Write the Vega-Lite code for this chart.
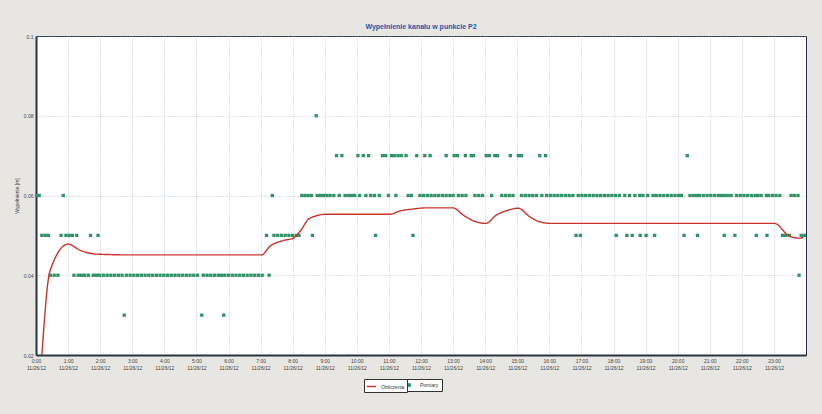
{
  "$schema": "https://vega.github.io/schema/vega-lite/v6.json",
  "width": 770,
  "height": 319,
  "autosize": "none",
  "padding": {"left": 36, "top": 36, "right": 16, "bottom": 59},
  "background": "#e8e6e2",
  "title": {"text": "Wypełnienie kanału w punkcie P2", "fontSize": 7, "fontWeight": "bold", "color": "#1f55a8", "anchor": "middle", "offset": 4},
  "config": {
    "view": {"stroke": "#2a3440", "strokeWidth": 1, "fill": "white"},
    "font": "Liberation Sans"
  },
  "datasets": {
    "lineData": [
      {"t": "2012-11-26T00:11", "v": 0.02},
      {"t": "2012-11-26T00:26", "v": 0.041},
      {"t": "2012-11-26T01:00", "v": 0.0478},
      {"t": "2012-11-26T01:22", "v": 0.0463},
      {"t": "2012-11-26T01:53", "v": 0.0453},
      {"t": "2012-11-26T03:00", "v": 0.0451},
      {"t": "2012-11-26T05:00", "v": 0.0451},
      {"t": "2012-11-26T07:02", "v": 0.0451},
      {"t": "2012-11-26T07:17", "v": 0.0472},
      {"t": "2012-11-26T07:42", "v": 0.0487},
      {"t": "2012-11-26T08:01", "v": 0.0493},
      {"t": "2012-11-26T08:13", "v": 0.0509},
      {"t": "2012-11-26T08:32", "v": 0.0543},
      {"t": "2012-11-26T09:04", "v": 0.0553},
      {"t": "2012-11-26T11:02", "v": 0.0553},
      {"t": "2012-11-26T11:20", "v": 0.0561},
      {"t": "2012-11-26T11:45", "v": 0.0566},
      {"t": "2012-11-26T12:10", "v": 0.0569},
      {"t": "2012-11-26T13:00", "v": 0.0569},
      {"t": "2012-11-26T13:19", "v": 0.0551},
      {"t": "2012-11-26T13:37", "v": 0.0537},
      {"t": "2012-11-26T14:01", "v": 0.053},
      {"t": "2012-11-26T14:21", "v": 0.0551},
      {"t": "2012-11-26T14:40", "v": 0.0562},
      {"t": "2012-11-26T15:02", "v": 0.0568},
      {"t": "2012-11-26T15:23", "v": 0.0547},
      {"t": "2012-11-26T15:42", "v": 0.0534},
      {"t": "2012-11-26T16:04", "v": 0.053},
      {"t": "2012-11-26T20:00", "v": 0.053},
      {"t": "2012-11-26T23:01", "v": 0.053},
      {"t": "2012-11-26T23:29", "v": 0.0498},
      {"t": "2012-11-26T23:48", "v": 0.0493},
      {"t": "2012-11-26T23:55", "v": 0.0495}
    ],
    "ptsData": [
      {"t": "2012-11-26T08:44", "v": 0.08},
      {"t": "2012-11-26T09:22", "v": 0.07}, {"t": "2012-11-26T09:32", "v": 0.07}, {"t": "2012-11-26T10:02", "v": 0.07}, {"t": "2012-11-26T10:12", "v": 0.07}, {"t": "2012-11-26T10:22", "v": 0.07}, {"t": "2012-11-26T10:48", "v": 0.07}, {"t": "2012-11-26T10:54", "v": 0.07}, {"t": "2012-11-26T11:05", "v": 0.07}, {"t": "2012-11-26T11:10", "v": 0.07}, {"t": "2012-11-26T11:17", "v": 0.07}, {"t": "2012-11-26T11:23", "v": 0.07}, {"t": "2012-11-26T11:32", "v": 0.07}, {"t": "2012-11-26T11:52", "v": 0.07}, {"t": "2012-11-26T12:07", "v": 0.07}, {"t": "2012-11-26T12:17", "v": 0.07}, {"t": "2012-11-26T12:47", "v": 0.07}, {"t": "2012-11-26T13:02", "v": 0.07}, {"t": "2012-11-26T13:08", "v": 0.07}, {"t": "2012-11-26T13:23", "v": 0.07}, {"t": "2012-11-26T13:34", "v": 0.07}, {"t": "2012-11-26T13:38", "v": 0.07}, {"t": "2012-11-26T14:02", "v": 0.07}, {"t": "2012-11-26T14:08", "v": 0.07}, {"t": "2012-11-26T14:18", "v": 0.07}, {"t": "2012-11-26T14:23", "v": 0.07}, {"t": "2012-11-26T14:47", "v": 0.07}, {"t": "2012-11-26T15:02", "v": 0.07}, {"t": "2012-11-26T15:08", "v": 0.07}, {"t": "2012-11-26T15:42", "v": 0.07}, {"t": "2012-11-26T15:53", "v": 0.07}, {"t": "2012-11-26T20:18", "v": 0.07},
      {"t": "2012-11-26T00:01", "v": 0.06}, {"t": "2012-11-26T00:06", "v": 0.06}, {"t": "2012-11-26T00:51", "v": 0.06}, {"t": "2012-11-26T07:22", "v": 0.06}, {"t": "2012-11-26T08:17", "v": 0.06}, {"t": "2012-11-26T08:23", "v": 0.06}, {"t": "2012-11-26T08:29", "v": 0.06}, {"t": "2012-11-26T08:35", "v": 0.06}, {"t": "2012-11-26T08:46", "v": 0.06}, {"t": "2012-11-26T08:52", "v": 0.06}, {"t": "2012-11-26T08:58", "v": 0.06}, {"t": "2012-11-26T09:04", "v": 0.06}, {"t": "2012-11-26T09:10", "v": 0.06}, {"t": "2012-11-26T09:17", "v": 0.06}, {"t": "2012-11-26T09:27", "v": 0.06}, {"t": "2012-11-26T09:38", "v": 0.06}, {"t": "2012-11-26T09:44", "v": 0.06}, {"t": "2012-11-26T09:50", "v": 0.06}, {"t": "2012-11-26T09:56", "v": 0.06}, {"t": "2012-11-26T10:05", "v": 0.06}, {"t": "2012-11-26T10:17", "v": 0.06}, {"t": "2012-11-26T10:26", "v": 0.06}, {"t": "2012-11-26T10:33", "v": 0.06}, {"t": "2012-11-26T10:42", "v": 0.06}, {"t": "2012-11-26T10:59", "v": 0.06}, {"t": "2012-11-26T11:13", "v": 0.06}, {"t": "2012-11-26T11:36", "v": 0.06}, {"t": "2012-11-26T11:42", "v": 0.06}, {"t": "2012-11-26T11:58", "v": 0.06}, {"t": "2012-11-26T12:05", "v": 0.06}, {"t": "2012-11-26T12:12", "v": 0.06}, {"t": "2012-11-26T12:19", "v": 0.06}, {"t": "2012-11-26T12:26", "v": 0.06}, {"t": "2012-11-26T12:33", "v": 0.06}, {"t": "2012-11-26T12:40", "v": 0.06}, {"t": "2012-11-26T12:47", "v": 0.06}, {"t": "2012-11-26T12:54", "v": 0.06}, {"t": "2012-11-26T13:00", "v": 0.06}, {"t": "2012-11-26T13:10", "v": 0.06}, {"t": "2012-11-26T13:17", "v": 0.06}, {"t": "2012-11-26T13:24", "v": 0.06}, {"t": "2012-11-26T13:41", "v": 0.06}, {"t": "2012-11-26T13:48", "v": 0.06}, {"t": "2012-11-26T13:55", "v": 0.06}, {"t": "2012-11-26T14:12", "v": 0.06}, {"t": "2012-11-26T14:31", "v": 0.06}, {"t": "2012-11-26T14:38", "v": 0.06}, {"t": "2012-11-26T14:45", "v": 0.06}, {"t": "2012-11-26T14:52", "v": 0.06}, {"t": "2012-11-26T15:08", "v": 0.06}, {"t": "2012-11-26T15:15", "v": 0.06}, {"t": "2012-11-26T15:22", "v": 0.06}, {"t": "2012-11-26T15:29", "v": 0.06}, {"t": "2012-11-26T15:36", "v": 0.06}, {"t": "2012-11-26T15:46", "v": 0.06}, {"t": "2012-11-26T15:55", "v": 0.06}, {"t": "2012-11-26T16:02", "v": 0.06}, {"t": "2012-11-26T16:09", "v": 0.06}, {"t": "2012-11-26T16:16", "v": 0.06}, {"t": "2012-11-26T16:23", "v": 0.06}, {"t": "2012-11-26T16:30", "v": 0.06}, {"t": "2012-11-26T16:37", "v": 0.06}, {"t": "2012-11-26T16:44", "v": 0.06}, {"t": "2012-11-26T16:54", "v": 0.06}, {"t": "2012-11-26T17:01", "v": 0.06}, {"t": "2012-11-26T17:08", "v": 0.06}, {"t": "2012-11-26T17:15", "v": 0.06}, {"t": "2012-11-26T17:22", "v": 0.06}, {"t": "2012-11-26T17:29", "v": 0.06}, {"t": "2012-11-26T17:36", "v": 0.06}, {"t": "2012-11-26T17:43", "v": 0.06}, {"t": "2012-11-26T17:50", "v": 0.06}, {"t": "2012-11-26T17:57", "v": 0.06}, {"t": "2012-11-26T18:04", "v": 0.06}, {"t": "2012-11-26T18:11", "v": 0.06}, {"t": "2012-11-26T18:21", "v": 0.06}, {"t": "2012-11-26T18:30", "v": 0.06}, {"t": "2012-11-26T18:40", "v": 0.06}, {"t": "2012-11-26T18:49", "v": 0.06}, {"t": "2012-11-26T18:55", "v": 0.06}, {"t": "2012-11-26T19:04", "v": 0.06}, {"t": "2012-11-26T19:14", "v": 0.06}, {"t": "2012-11-26T19:20", "v": 0.06}, {"t": "2012-11-26T19:27", "v": 0.06}, {"t": "2012-11-26T19:34", "v": 0.06}, {"t": "2012-11-26T19:41", "v": 0.06}, {"t": "2012-11-26T19:48", "v": 0.06}, {"t": "2012-11-26T19:55", "v": 0.06}, {"t": "2012-11-26T20:02", "v": 0.06}, {"t": "2012-11-26T20:07", "v": 0.06}, {"t": "2012-11-26T20:23", "v": 0.06}, {"t": "2012-11-26T20:29", "v": 0.06}, {"t": "2012-11-26T20:35", "v": 0.06}, {"t": "2012-11-26T20:41", "v": 0.06}, {"t": "2012-11-26T20:48", "v": 0.06}, {"t": "2012-11-26T20:55", "v": 0.06}, {"t": "2012-11-26T21:02", "v": 0.06}, {"t": "2012-11-26T21:09", "v": 0.06}, {"t": "2012-11-26T21:16", "v": 0.06}, {"t": "2012-11-26T21:22", "v": 0.06}, {"t": "2012-11-26T21:28", "v": 0.06}, {"t": "2012-11-26T21:34", "v": 0.06}, {"t": "2012-11-26T21:40", "v": 0.06}, {"t": "2012-11-26T21:50", "v": 0.06}, {"t": "2012-11-26T21:57", "v": 0.06}, {"t": "2012-11-26T22:04", "v": 0.06}, {"t": "2012-11-26T22:11", "v": 0.06}, {"t": "2012-11-26T22:18", "v": 0.06}, {"t": "2012-11-26T22:25", "v": 0.06}, {"t": "2012-11-26T22:30", "v": 0.06}, {"t": "2012-11-26T22:36", "v": 0.06}, {"t": "2012-11-26T22:46", "v": 0.06}, {"t": "2012-11-26T22:50", "v": 0.06}, {"t": "2012-11-26T22:57", "v": 0.06}, {"t": "2012-11-26T23:04", "v": 0.06}, {"t": "2012-11-26T23:11", "v": 0.06}, {"t": "2012-11-26T23:32", "v": 0.06}, {"t": "2012-11-26T23:38", "v": 0.06}, {"t": "2012-11-26T23:45", "v": 0.06},
      {"t": "2012-11-26T00:11", "v": 0.05}, {"t": "2012-11-26T00:17", "v": 0.05}, {"t": "2012-11-26T00:23", "v": 0.05}, {"t": "2012-11-26T00:47", "v": 0.05}, {"t": "2012-11-26T00:56", "v": 0.05}, {"t": "2012-11-26T01:02", "v": 0.05}, {"t": "2012-11-26T01:08", "v": 0.05}, {"t": "2012-11-26T01:16", "v": 0.05}, {"t": "2012-11-26T01:42", "v": 0.05}, {"t": "2012-11-26T01:56", "v": 0.05}, {"t": "2012-11-26T07:11", "v": 0.05}, {"t": "2012-11-26T07:25", "v": 0.05}, {"t": "2012-11-26T07:32", "v": 0.05}, {"t": "2012-11-26T07:39", "v": 0.05}, {"t": "2012-11-26T07:46", "v": 0.05}, {"t": "2012-11-26T07:53", "v": 0.05}, {"t": "2012-11-26T08:00", "v": 0.05}, {"t": "2012-11-26T08:07", "v": 0.05}, {"t": "2012-11-26T08:12", "v": 0.05}, {"t": "2012-11-26T08:37", "v": 0.05}, {"t": "2012-11-26T10:35", "v": 0.05}, {"t": "2012-11-26T11:45", "v": 0.05}, {"t": "2012-11-26T16:50", "v": 0.05}, {"t": "2012-11-26T16:58", "v": 0.05}, {"t": "2012-11-26T18:05", "v": 0.05}, {"t": "2012-11-26T18:25", "v": 0.05}, {"t": "2012-11-26T18:35", "v": 0.05}, {"t": "2012-11-26T18:50", "v": 0.05}, {"t": "2012-11-26T19:01", "v": 0.05}, {"t": "2012-11-26T19:17", "v": 0.05}, {"t": "2012-11-26T20:12", "v": 0.05}, {"t": "2012-11-26T20:37", "v": 0.05}, {"t": "2012-11-26T21:27", "v": 0.05}, {"t": "2012-11-26T21:47", "v": 0.05}, {"t": "2012-11-26T22:27", "v": 0.05}, {"t": "2012-11-26T22:47", "v": 0.05}, {"t": "2012-11-26T23:16", "v": 0.05}, {"t": "2012-11-26T23:22", "v": 0.05}, {"t": "2012-11-26T23:29", "v": 0.05}, {"t": "2012-11-26T23:51", "v": 0.05}, {"t": "2012-11-26T23:57", "v": 0.05},
      {"t": "2012-11-26T00:27", "v": 0.04}, {"t": "2012-11-26T00:34", "v": 0.04}, {"t": "2012-11-26T00:41", "v": 0.04}, {"t": "2012-11-26T01:11", "v": 0.04}, {"t": "2012-11-26T01:19", "v": 0.04}, {"t": "2012-11-26T01:25", "v": 0.04}, {"t": "2012-11-26T01:31", "v": 0.04}, {"t": "2012-11-26T01:38", "v": 0.04}, {"t": "2012-11-26T01:47", "v": 0.04}, {"t": "2012-11-26T01:53", "v": 0.04}, {"t": "2012-11-26T01:59", "v": 0.04}, {"t": "2012-11-26T02:06", "v": 0.04}, {"t": "2012-11-26T02:13", "v": 0.04}, {"t": "2012-11-26T02:20", "v": 0.04}, {"t": "2012-11-26T02:27", "v": 0.04}, {"t": "2012-11-26T02:34", "v": 0.04}, {"t": "2012-11-26T02:41", "v": 0.04}, {"t": "2012-11-26T02:49", "v": 0.04}, {"t": "2012-11-26T02:56", "v": 0.04}, {"t": "2012-11-26T03:03", "v": 0.04}, {"t": "2012-11-26T03:10", "v": 0.04}, {"t": "2012-11-26T03:17", "v": 0.04}, {"t": "2012-11-26T03:24", "v": 0.04}, {"t": "2012-11-26T03:31", "v": 0.04}, {"t": "2012-11-26T03:38", "v": 0.04}, {"t": "2012-11-26T03:45", "v": 0.04}, {"t": "2012-11-26T03:52", "v": 0.04}, {"t": "2012-11-26T03:59", "v": 0.04}, {"t": "2012-11-26T04:06", "v": 0.04}, {"t": "2012-11-26T04:13", "v": 0.04}, {"t": "2012-11-26T04:20", "v": 0.04}, {"t": "2012-11-26T04:27", "v": 0.04}, {"t": "2012-11-26T04:34", "v": 0.04}, {"t": "2012-11-26T04:41", "v": 0.04}, {"t": "2012-11-26T04:48", "v": 0.04}, {"t": "2012-11-26T04:55", "v": 0.04}, {"t": "2012-11-26T05:02", "v": 0.04}, {"t": "2012-11-26T05:13", "v": 0.04}, {"t": "2012-11-26T05:20", "v": 0.04}, {"t": "2012-11-26T05:27", "v": 0.04}, {"t": "2012-11-26T05:34", "v": 0.04}, {"t": "2012-11-26T05:41", "v": 0.04}, {"t": "2012-11-26T05:47", "v": 0.04}, {"t": "2012-11-26T05:53", "v": 0.04}, {"t": "2012-11-26T06:00", "v": 0.04}, {"t": "2012-11-26T06:07", "v": 0.04}, {"t": "2012-11-26T06:14", "v": 0.04}, {"t": "2012-11-26T06:21", "v": 0.04}, {"t": "2012-11-26T06:28", "v": 0.04}, {"t": "2012-11-26T06:35", "v": 0.04}, {"t": "2012-11-26T06:42", "v": 0.04}, {"t": "2012-11-26T06:49", "v": 0.04}, {"t": "2012-11-26T06:56", "v": 0.04}, {"t": "2012-11-26T07:03", "v": 0.04}, {"t": "2012-11-26T07:16", "v": 0.04}, {"t": "2012-11-26T23:47", "v": 0.04},
      {"t": "2012-11-26T02:45", "v": 0.03}, {"t": "2012-11-26T05:10", "v": 0.03}, {"t": "2012-11-26T05:51", "v": 0.03}
    ]
  },
  "layer": [
    {
      "data": {"name": "ptsData"},
      "mark": {"type": "point", "shape": "square", "filled": true, "size": 11, "opacity": 1},
      "encoding": {
        "x": {
          "field": "t", "type": "temporal",
          "scale": {"domain": [{"year": 2012, "month": 11, "date": 26, "hours": 0}, {"year": 2012, "month": 11, "date": 26, "hours": 23, "minutes": 59, "seconds": 59}], "nice": false},
          "axis": {"title": null, "labelExpr": "[timeFormat(datum.value, '%-H:%M'), '11/26/12']", "labelFontSize": 5, "labelColor": "#444", "labelLineHeight": 7, "labelPadding": 3, "labelOverlap": false, "labelFlush": false, "ticks": false, "grid": true, "gridDash": [1, 2], "gridColor": "#8fa6b8", "gridWidth": 0.6, "domainColor": "#2a3440", "domainWidth": 2}
        },
        "y": {
          "field": "v", "type": "quantitative",
          "scale": {"domain": [0.02, 0.1], "nice": false, "zero": false},
          "axis": {"title": "Wypełnienie [m]", "titleFontSize": 5, "titleFontWeight": "normal", "titleColor": "#444", "titlePadding": 4, "values": [0.02, 0.04, 0.06, 0.08, 0.1], "format": ".2~f", "labelFontSize": 5, "labelColor": "#444", "labelPadding": 3, "ticks": false, "grid": true, "gridDash": [1, 2], "gridColor": "#8fa6b8", "gridWidth": 0.6, "domainColor": "#2a3440", "domainWidth": 2}
        },
        "color": {"datum": "Pomiary", "type": "nominal", "scale": {"domain": ["Pomiary"], "range": ["#2e9466"]},
          "legend": {"title": null, "orient": "none", "legendX": 367, "legendY": 343, "strokeColor": "#333", "fillColor": "white", "padding": 3, "labelFontSize": 5, "labelColor": "#333", "symbolSize": 14, "symbolType": "square", "labelOffset": 8}
        }
      }
    },
    {
      "data": {"name": "lineData"},
      "mark": {"type": "line", "interpolate": "monotone", "strokeWidth": 1.4, "color": "#c8342c"},
      "encoding": {
        "x": {"field": "t", "type": "temporal"},
        "y": {"field": "v", "type": "quantitative"},
        "strokeDash": {"datum": "Obliczenia", "type": "nominal", "scale": {"domain": ["Obliczenia"], "range": [[1, 0]]},
          "legend": {"title": null, "orient": "none", "legendX": 328, "legendY": 343, "strokeColor": "#333", "fillColor": "white", "padding": 2, "labelFontSize": 5, "labelColor": "#333", "symbolType": "stroke", "symbolSize": 81, "symbolStrokeWidth": 1.5, "symbolStrokeColor": "#c8342c", "labelOffset": 4}
        }
      }
    }
  ]
}
